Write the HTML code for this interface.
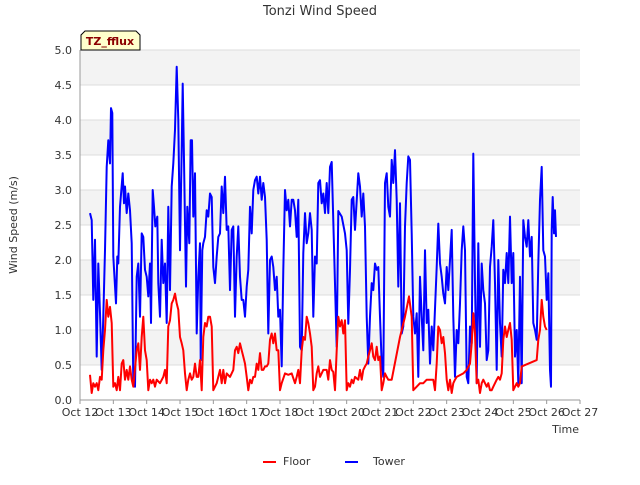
<!DOCTYPE html>
<html><head><meta charset="utf-8"><style>
body{margin:0;background:#fff;font-family:"Liberation Sans","DejaVu Sans",sans-serif;}
svg text{font-family:"DejaVu Sans","Liberation Sans",sans-serif;}
</style></head><body>
<svg id="chart" width="640" height="480" xmlns="http://www.w3.org/2000/svg">
<rect width="640" height="480" fill="#fff"/>
<text x="320" y="15" text-anchor="middle" font-size="13" fill="#333">Tonzi Wind Speed</text>
<g id="bands"></g>
<g id="grid"></g>
<g id="series"></g>
<g id="axes"></g>
<text transform="translate(17,225) rotate(-90)" text-anchor="middle" font-size="11" fill="#333">Wind Speed (m/s)</text>
<text x="579" y="433" text-anchor="end" font-size="11" fill="#333">Time</text>
<g>
<polygon points="85,31 136,31 140,35 140,50 81,50 81,35" fill="#ffffcc" stroke="#000" stroke-width="1"/>
<text x="110" y="45" text-anchor="middle" font-size="11" font-weight="bold" fill="#8b0000">TZ_fflux</text>
</g>
<g>
<g>
<line x1="263" y1="462" x2="276" y2="462" stroke="#ff0000" stroke-width="2"/>
<text x="283" y="465" font-size="11" fill="#333">Floor</text></g>
<g>
<line x1="345" y1="462" x2="358" y2="462" stroke="#0000ff" stroke-width="2"/>
<text x="373" y="465" font-size="11" fill="#333">Tower</text></g>
</g>
</svg>
<script>
const xTickLabels=["Oct 12","Oct 13","Oct 14","Oct 15","Oct 16","Oct 17","Oct 18","Oct 19","Oct 20","Oct 21","Oct 22","Oct 23","Oct 24","Oct 25","Oct 26","Oct 27"];
const yTickLabels=["0.0","0.5","1.0","1.5","2.0","2.5","3.0","3.5","4.0","4.5","5.0"];
const towerDays=[.30,.35,.40,.45,.50,.55,.60,.65,.70,.75,.80,.85,.90,.93,.97,1.00,1.08,1.12,1.15,1.20,1.28,1.32,1.35,1.40,1.45,1.50,1.55,1.60,1.65,1.70,1.75,1.80,1.85,1.90,1.95,2.00,2.05,2.10,2.13,2.18,2.22,2.26,2.32,2.35,2.40,2.45,2.50,2.55,2.60,2.65,2.70,2.75,2.80,2.85,2.90,2.95,3.00,3.05,3.08,3.12,3.18,3.22,3.28,3.32,3.36,3.40,3.45,3.50,3.55,3.60,3.62,3.67,3.70,3.75,3.80,3.85,3.90,3.95,4.00,4.05,4.10,4.15,4.20,4.25,4.30,4.35,4.40,4.45,4.50,4.55,4.60,4.65,4.70,4.75,4.80,4.85,4.90,4.95,5.00,5.05,5.10,5.15,5.20,5.25,5.30,5.35,5.40,5.45,5.50,5.55,5.60,5.65,5.70,5.75,5.80,5.85,5.90,5.95,6.00,6.05,6.10,6.15,6.20,6.25,6.30,6.35,6.40,6.45,6.50,6.55,6.60,6.65,6.70,6.75,6.80,6.85,6.90,6.95,7.00,7.05,7.10,7.15,7.20,7.25,7.30,7.35,7.40,7.45,7.50,7.55,7.70,7.75,7.85,7.95,8.00,8.05,8.10,8.15,8.20,8.25,8.35,8.40,8.45,8.50,8.55,8.60,8.65,8.70,8.75,8.80,8.85,8.90,8.95,9.00,9.05,9.10,9.15,9.20,9.25,9.30,9.35,9.40,9.45,9.50,9.55,9.60,9.65,9.70,9.75,9.80,9.85,9.90,9.95,10.00,10.05,10.10,10.15,10.20,10.25,10.30,10.35,10.40,10.45,10.50,10.55,10.60,10.70,10.75,10.80,10.85,10.90,10.95,11.00,11.05,11.15,11.20,11.25,11.30,11.35,11.40,11.45,11.50,11.55,11.60,11.65,11.70,11.75,11.80,11.85,11.90,11.95,12.00,12.05,12.10,12.15,12.20,12.25,12.30,12.35,12.40,12.45,12.50,12.55,12.60,12.65,12.70,12.75,12.80,12.85,12.90,12.95,13.00,13.05,13.10,13.15,13.20,13.25,13.30,13.35,13.40,13.45,13.50,13.55,13.60,13.65,13.70,13.75,13.80,13.85,13.90,13.95,14.00,14.05,14.10,14.13,14.15,14.18,14.22,14.25,14.28];
const towerValues=[2.67,2.57,1.43,2.29,0.62,1.95,1.24,0.43,1.19,2.14,3.33,3.71,3.38,4.17,4.1,2.05,1.38,2.05,1.95,2.76,3.24,2.81,3.05,2.67,2.95,2.71,2.24,0.24,0.19,1.76,1.95,1.19,2.38,2.33,1.86,1.76,1.48,1.95,1.1,3.0,2.76,2.48,2.62,1.67,1.19,2.29,1.67,1.95,1.1,2.76,1.57,3.05,3.38,3.86,4.76,4.0,2.14,3.57,4.52,3.43,1.62,2.76,2.24,3.71,3.71,2.62,3.24,0.95,1.76,2.24,0.57,2.14,2.24,2.33,2.71,2.62,2.95,2.9,1.9,1.67,2.05,2.33,2.38,3.05,2.67,3.19,2.43,2.48,1.57,2.43,2.48,1.19,2.05,2.48,1.76,1.43,1.43,1.19,1.62,1.86,2.76,2.38,3.0,3.14,3.19,2.95,3.19,2.86,3.1,2.9,2.29,0.95,2.0,2.05,1.9,1.57,1.76,1.19,1.29,0.48,1.86,3.0,2.71,2.86,2.48,2.86,2.86,2.71,2.33,2.86,0.76,0.71,2.1,2.67,2.24,2.38,2.67,2.43,1.19,2.05,1.95,3.1,3.14,2.81,2.95,2.67,3.1,2.67,3.33,3.4,0.76,2.7,2.62,2.38,2.14,1.09,1.86,2.86,2.9,2.43,3.24,3.05,2.62,2.95,2.48,1.19,0.52,1.19,1.67,1.57,1.95,1.86,1.9,1.19,0.52,0.33,3.1,3.24,2.76,2.62,3.43,3.1,3.57,2.86,1.62,2.81,0.95,1.05,2.48,3.1,3.48,3.43,2.38,1.19,0.95,1.24,0.33,1.76,1.19,0.71,2.14,1.1,1.29,0.52,1.05,0.71,1.9,2.52,1.95,1.76,1.52,1.38,1.9,1.57,2.43,1.19,0.33,1.0,0.81,1.38,2.14,2.48,2.14,0.33,0.24,1.05,0.81,3.52,1.67,0.24,2.24,0.76,1.95,1.57,1.38,0.57,0.71,1.9,2.19,2.57,1.67,0.43,2.0,1.1,0.62,1.86,1.67,2.1,1.67,2.62,1.67,2.1,0.62,1.0,0.24,1.76,0.24,2.57,2.33,2.19,2.57,2.05,2.33,1.1,1.0,0.86,1.95,2.86,3.33,2.14,2.05,1.43,1.81,0.43,0.19,2.43,2.9,2.38,2.71,2.33];
const floorDays=[.30,.35,.40,.45,.50,.55,.60,.65,.70,.75,.80,.85,.90,.95,1.00,1.05,1.10,1.15,1.20,1.25,1.30,1.35,1.40,1.45,1.50,1.55,1.60,1.70,1.75,1.80,1.85,1.90,1.95,2.00,2.05,2.10,2.15,2.20,2.25,2.30,2.40,2.50,2.55,2.60,2.65,2.70,2.75,2.80,2.85,2.90,2.95,3.00,3.05,3.10,3.15,3.20,3.25,3.30,3.35,3.40,3.45,3.50,3.55,3.60,3.65,3.70,3.75,3.80,3.85,3.90,3.95,4.00,4.10,4.20,4.25,4.30,4.35,4.40,4.50,4.60,4.65,4.70,4.75,4.80,4.85,4.90,4.95,5.00,5.05,5.10,5.15,5.20,5.25,5.30,5.35,5.40,5.45,5.50,5.55,5.60,5.65,5.70,5.75,5.80,5.85,5.90,5.95,6.00,6.05,6.15,6.25,6.35,6.45,6.50,6.55,6.60,6.65,6.70,6.75,6.80,6.85,6.90,6.95,7.00,7.05,7.10,7.15,7.20,7.30,7.40,7.45,7.50,7.55,7.60,7.65,7.70,7.75,7.80,7.85,7.90,7.95,8.00,8.05,8.10,8.15,8.20,8.25,8.35,8.40,8.45,8.50,8.55,8.60,8.65,8.70,8.75,8.80,8.85,8.90,8.95,9.00,9.05,9.10,9.15,9.20,9.25,9.35,9.60,9.75,9.87,9.95,10.00,10.10,10.20,10.30,10.40,10.50,10.60,10.65,10.70,10.75,10.80,10.85,10.90,10.95,11.00,11.05,11.10,11.15,11.20,11.25,11.30,11.50,11.60,11.70,11.75,11.80,11.85,11.90,11.95,12.00,12.05,12.10,12.15,12.20,12.25,12.30,12.35,12.40,12.45,12.50,12.55,12.60,12.65,12.70,12.75,12.80,12.85,12.90,12.95,13.00,13.05,13.10,13.15,13.20,13.25,13.70,13.75,13.80,13.85,13.90,13.95,14.00];
const floorValues=[.36,.1,.24,.19,.24,.14,.33,.29,.71,1.0,1.43,1.19,1.33,1.1,.19,.24,.14,.33,.14,.52,.57,.29,.43,.29,.48,.29,.19,.71,.81,.43,.9,1.19,.71,.57,.14,.29,.24,.29,.19,.29,.24,.33,.43,.24,1.05,1.14,1.38,1.43,1.52,1.38,1.29,.9,.81,.71,.38,.14,.29,.38,.29,.33,.52,.33,.33,.57,.14,.9,1.1,1.05,1.19,1.19,1.05,.14,.24,.43,.24,.43,.24,.38,.33,.43,.71,.76,.67,.81,.71,.62,.52,.33,.14,.29,.24,.33,.33,.52,.43,.67,.43,.43,.48,.48,.52,.86,.95,.81,.95,.71,.71,.14,.24,.38,.36,.38,.24,.33,.43,.24,.71,.9,.86,1.19,1.1,.95,.76,.14,.19,.38,.48,.33,.43,.43,.29,.57,.43,.4,.14,.71,1.19,1.05,1.14,.95,1.14,.14,.24,.19,.29,.24,.33,.29,.43,.29,.43,.48,.52,.62,.71,.81,.62,.57,.76,.57,.62,.14,.24,.38,.33,.29,.29,.9,1.19,1.48,1.19,.14,.19,.24,.24,.29,.29,.29,.14,.52,1.05,1.0,.81,.9,.67,.29,.14,.29,.1,.24,.29,.33,.38,.43,.52,.81,1.24,.95,.24,.29,.1,.24,.29,.24,.19,.24,.14,.14,.19,.24,.29,.33,.29,.38,.86,1.05,.9,1.0,1.1,.86,.14,.19,.24,.19,.24,.48,.57,.86,1.0,1.43,1.19,1.05,1.0];

const NS='http://www.w3.org/2000/svg';
const L=80,R=580,T=50,B=400,XMAX=15,YMAX=5;
const xs=d=>L+(d/XMAX)*(R-L);
const ys=v=>B-(v/YMAX)*(B-T);
function mk(tag,attrs,parent){const e=document.createElementNS(NS,tag);for(const k in attrs)e.setAttribute(k,attrs[k]);document.getElementById(parent).appendChild(e);return e;}
for(let i=0;i<yTickLabels.length-1;i++){
  if(i%2===1){const b=mk('rect',{x:L,y:ys(i*0.5+0.5),width:R-L,height:ys(i*0.5)-ys(i*0.5+0.5),fill:'#f3f3f3'},'bands');
  
  }
}
yTickLabels.forEach((lab,i)=>{
  const v=i*0.5;
  const g=mk('line',{x1:L,x2:R,y1:ys(v),y2:ys(v),stroke:'#dddddd','stroke-width':1},'grid');
  
  
  const t=mk('text',{x:L-8,y:ys(v)+4,'text-anchor':'end','font-size':11,fill:'#333'},'axes');
  t.textContent=lab;
  
  
});
xTickLabels.forEach((lab,i)=>{
  const tk=mk('line',{x1:xs(i),x2:xs(i),y1:B,y2:B+4,stroke:'#999'},'axes');
  
  
  const t=mk('text',{x:xs(i),y:B+16,'text-anchor':'middle','font-size':11,fill:'#333'},'axes');
  t.textContent=lab;
  
  
});
const ax=mk('path',{d:`M${L},${T}V${B}H${R}`,fill:'none',stroke:'#999'},'axes');


function line(days,vals,color,name){
  const d=days.map((t,i)=>(i?'L':'M')+xs(t).toFixed(1)+','+ys(vals[i]).toFixed(1)).join('');
  const p=mk('path',{d:d,fill:'none',stroke:color,'stroke-width':2,'stroke-linejoin':'round'},'series');
  
  
}
line(towerDays,towerValues,'#0000ff','tower-line');
line(floorDays,floorValues,'#ff0000','floor-line');
</script>
</body></html>
